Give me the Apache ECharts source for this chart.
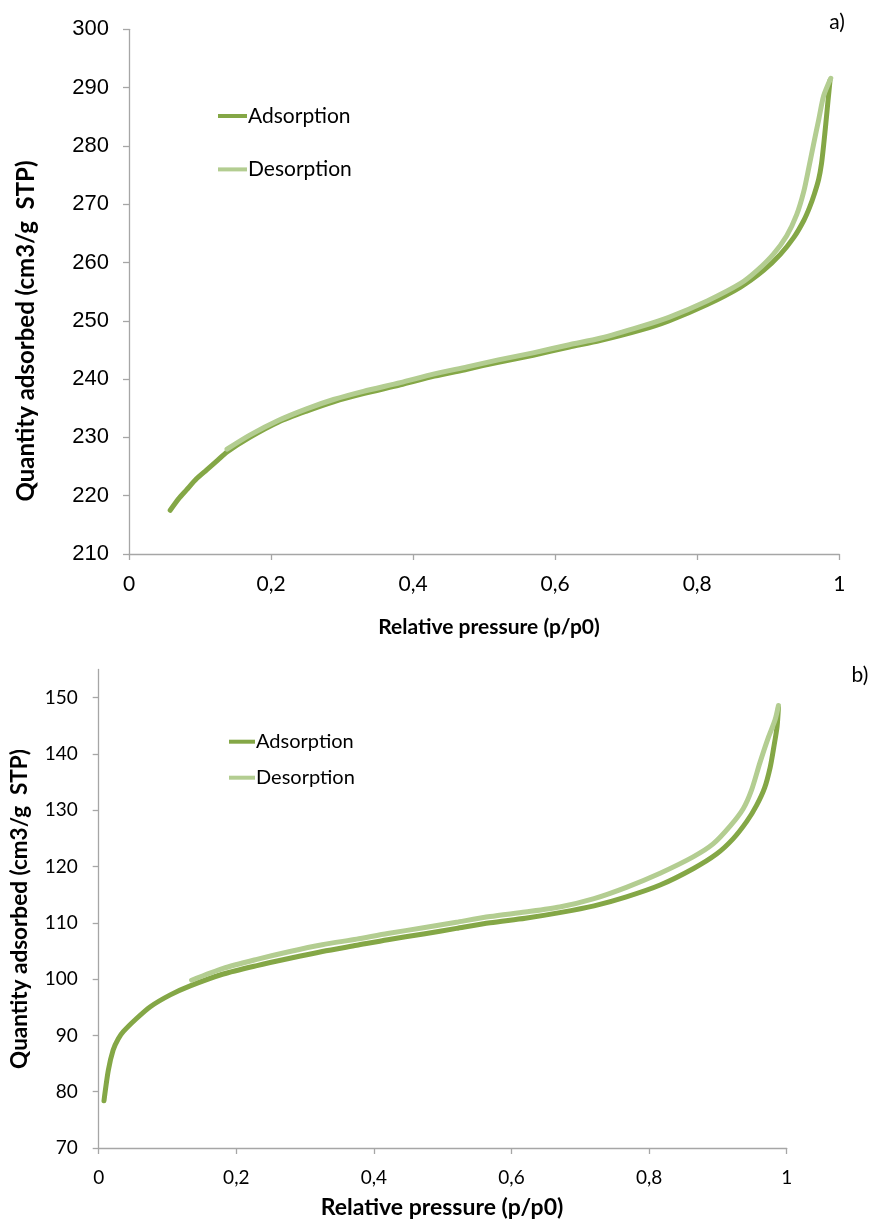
<!DOCTYPE html>
<html>
<head>
<meta charset="utf-8">
<title>N2 isotherms</title>
<script src="https://cdn.jsdelivr.net/npm/echarts@6/dist/echarts.min.js"></script>
<style>
  html, body { margin: 0; padding: 0; background: #ffffff; }
  #chart { width: 873px; height: 1225px; }
</style>
</head>
<body>
<div id="chart"></div>
<script>
// ---- Sample a) ----
const aAdsP = [0.058, 0.07, 0.081, 0.095, 0.109, 0.125, 0.138, 0.17, 0.21, 0.25, 0.288, 0.33, 0.382, 0.43, 0.476, 0.52, 0.569, 0.62, 0.663, 0.72, 0.76, 0.814, 0.861, 0.893, 0.917, 0.936, 0.95, 0.958, 0.965, 0.971, 0.975, 0.978, 0.981, 0.984, 0.987];
const aAdsQ = [217.5, 219.5, 221.0, 222.9, 224.4, 226.1, 227.5, 230.0, 232.6, 234.5, 236.1, 237.5, 239.0, 240.5, 241.7, 242.9, 244.1, 245.5, 246.6, 248.4, 250.0, 252.8, 255.8, 258.6, 261.4, 264.3, 267.2, 269.4, 271.8, 274.3, 277.0, 280.2, 283.8, 287.6, 291.3];
const aDesP = [0.138, 0.17, 0.21, 0.25, 0.288, 0.33, 0.382, 0.43, 0.476, 0.52, 0.569, 0.62, 0.663, 0.72, 0.76, 0.814, 0.861, 0.884, 0.907, 0.926, 0.94, 0.95, 0.957, 0.964, 0.971, 0.978, 0.988];
const aDesQ = [228.0, 230.4, 232.9, 234.9, 236.5, 237.9, 239.4, 240.9, 242.1, 243.3, 244.5, 245.9, 247.0, 249.0, 250.6, 253.4, 256.4, 258.6, 261.4, 264.6, 268.2, 272.2, 276.2, 280.4, 284.5, 288.6, 291.6];

// ---- Sample b) ----
const bAdsP = [0.0077, 0.014, 0.021, 0.0285, 0.036, 0.055, 0.075, 0.104, 0.133, 0.181, 0.23, 0.278, 0.325, 0.375, 0.42, 0.472, 0.52, 0.569, 0.62, 0.67, 0.72, 0.767, 0.816, 0.864, 0.898, 0.922, 0.942, 0.956, 0.968, 0.976, 0.981, 0.986, 0.988];
const bAdsQ = [78.4, 83.8, 87.4, 89.4, 90.7, 93.0, 95.1, 97.2, 98.8, 100.9, 102.4, 103.7, 104.9, 106.0, 107.0, 108.0, 109.0, 110.0, 110.8, 111.8, 113.0, 114.6, 116.7, 119.6, 122.2, 124.9, 128.0, 130.8, 134.0, 137.6, 141.0, 144.8, 148.3];
const bDesP = [0.135, 0.181, 0.23, 0.278, 0.325, 0.375, 0.42, 0.472, 0.52, 0.569, 0.62, 0.67, 0.72, 0.767, 0.816, 0.864, 0.893, 0.918, 0.937, 0.949, 0.961, 0.973, 0.983, 0.988];
const bDesQ = [99.8, 101.9, 103.5, 104.9, 106.1, 107.1, 108.1, 109.1, 110.1, 111.1, 111.9, 112.8, 114.3, 116.3, 118.8, 121.7, 124.0, 127.2, 130.3, 133.6, 138.4, 142.8, 146.0, 148.6];

const seriesNames = ['Adsorption', 'Desorption'];
const xTitle = 'Relative pressure (p/p0)';
const yTitle = 'Quantity adsorbed (cm3/g  STP)';
const panelTags = ['a)', 'b)'];
const bYTicks = [70, 80, 90, 100, 110, 120, 130, 140, 150];

const ADS_COLOR = '#84a746';
const DES_COLOR = '#b3cd91';
const AXIS_COLOR = '#a6a6a6';
const SANS = 'Lato, "Open Sans", sans-serif';

const zip = (xs, ys) => xs.map((x, i) => [x, ys[i]]);
const commaFmt = v => String(+v.toFixed(1)).replace('.', ',');

function lineSeries(name, data, color, xi, z) {
  return {
    name, type: 'line', xAxisIndex: xi, yAxisIndex: xi,
    data, showSymbol: false, symbol: 'none',
    smooth: 0.25, z,
    lineStyle: { color, width: 5, cap: 'round', join: 'round' },
    itemStyle: { color },
    emphasis: { disabled: true }
  };
}

function xAxisOf(gi, fontSize) {
  return {
    type: 'value', gridIndex: gi, min: 0, max: 1, interval: 0.2,
    axisLine: { lineStyle: { color: AXIS_COLOR, width: 1.3 } },
    axisTick: { show: true, inside: false, length: 6, lineStyle: { color: AXIS_COLOR, width: 1.3 } },
    splitLine: { show: false },
    axisLabel: { formatter: commaFmt, color: '#000', fontFamily: SANS, fontSize, margin: 20 }
  };
}

const chart = echarts.init(document.getElementById('chart'), null, { renderer: 'canvas' });

chart.setOption({
  backgroundColor: '#ffffff',
  animation: false,
  grid: [
    { left: 129, top: 29.3, width: 710.3, height: 524.7 },
    { left: 98.7, top: 669.4, width: 688, height: 478.6 }
  ],
  xAxis: [xAxisOf(0, 21), xAxisOf(1, 19)],
  yAxis: [
    {
      type: 'value', gridIndex: 0, min: 210, max: 300, interval: 10,
      axisLine: { show: true, lineStyle: { color: AXIS_COLOR, width: 1.3 } },
      axisTick: { show: true, inside: false, length: 6, lineStyle: { color: AXIS_COLOR, width: 1.3 } },
      splitLine: { show: false },
      axisLabel: { color: '#000', fontFamily: '"Liberation Sans", Arial, sans-serif', fontSize: 22, margin: 20 }
    },
    {
      type: 'value', gridIndex: 1, min: 70, max: 155, interval: 10,
      axisLine: { show: true, lineStyle: { color: AXIS_COLOR, width: 1.3 } },
      axisTick: { show: true, inside: false, length: 6, customValues: bYTicks, lineStyle: { color: AXIS_COLOR, width: 1.3 } },
      splitLine: { show: false },
      axisLabel: { color: '#000', fontFamily: SANS, fontSize: 19, margin: 21, customValues: bYTicks }
    }
  ],
  legend: [
    {
      data: seriesNames, orient: 'vertical', left: 213, top: 99,
      icon: 'rect', itemWidth: 29, itemHeight: 4, itemGap: 29.4,
      selectedMode: false,
      textStyle: { color: '#000', fontFamily: SANS, fontSize: 21, lineHeight: 24, padding: [0, 0, 0, -4] }
    },
    {
      data: seriesNames, orient: 'vertical', left: 224, top: 724.7,
      icon: 'rect', itemWidth: 26, itemHeight: 4, itemGap: 12,
      selectedMode: false,
      textStyle: { color: '#000', fontFamily: SANS, fontSize: 20, lineHeight: 24, padding: [0, 0, 0, -4] }
    }
  ],
  graphic: [
    { type: 'text', x: 26, y: 331, rotation: Math.PI / 2, silent: true,
      style: { text: yTitle, fill: '#000', fontFamily: SANS, fontWeight: 'bold', fontSize: 24, align: 'center', verticalAlign: 'middle' } },
    { type: 'text', x: 20, y: 909, rotation: Math.PI / 2, silent: true,
      style: { text: yTitle, fill: '#000', fontFamily: SANS, fontWeight: 'bold', fontSize: 22.5, align: 'center', verticalAlign: 'middle' } },
    { type: 'text', x: 489, y: 627, silent: true,
      style: { text: xTitle, fill: '#000', fontFamily: SANS, fontWeight: 'bold', fontSize: 21, align: 'center', verticalAlign: 'middle' } },
    { type: 'text', x: 442, y: 1208, silent: true,
      style: { text: xTitle, fill: '#000', fontFamily: SANS, fontWeight: 'bold', fontSize: 23, align: 'center', verticalAlign: 'middle' } },
    { type: 'text', x: 837, y: 22, silent: true,
      style: { text: panelTags[0], fill: '#000', fontFamily: SANS, fontSize: 21, align: 'center', verticalAlign: 'middle' } },
    { type: 'text', x: 860, y: 675, silent: true,
      style: { text: panelTags[1], fill: '#000', fontFamily: SANS, fontSize: 21, align: 'center', verticalAlign: 'middle' } }
  ],
  series: [
    lineSeries(seriesNames[0], zip(aAdsP, aAdsQ), ADS_COLOR, 0, 2),
    lineSeries(seriesNames[1], zip(aDesP, aDesQ), DES_COLOR, 0, 3),
    lineSeries(seriesNames[0], zip(bAdsP, bAdsQ), ADS_COLOR, 1, 2),
    lineSeries(seriesNames[1], zip(bDesP, bDesQ), DES_COLOR, 1, 3)
  ]
});
</script>
</body>
</html>
